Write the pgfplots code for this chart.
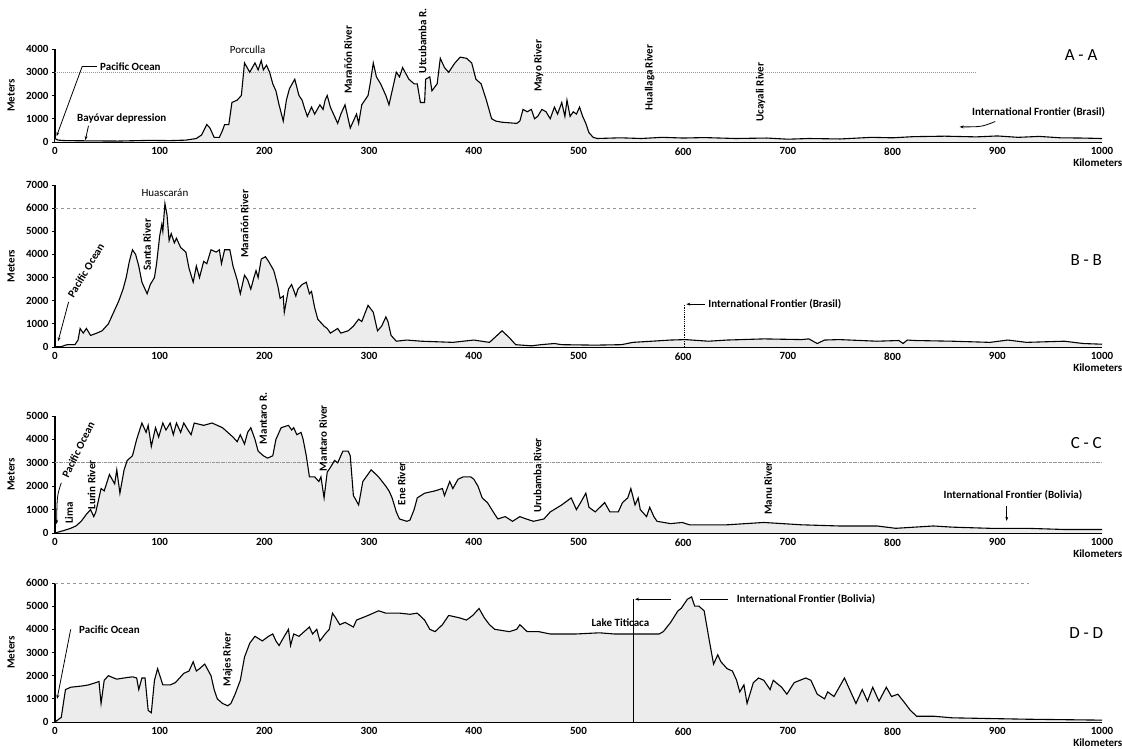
\documentclass[border=0pt]{standalone}
\usepackage{pgfplots}
\pgfplotsset{compat=1.18}
\usepackage{pgfplotstable}
\usepackage{fontspec}
\setmainfont{Carlito}
\usetikzlibrary{arrows.meta}
\definecolor{fillg}{RGB}{236,236,236}
\definecolor{refg}{RGB}{150,150,150}

\pgfplotstableread{
km m
0 150
3 80
10 60
30 50
60 40
90 70
110 60
125 80
135 150
140 300
145 750
148 600
152 200
157 200
160 500
162 750
166 750
169 1700
174 1800
178 2000
181 3400
186 3000
191 3400
194 3100
197 3500
199 3100
202 3300
205 3000
208 2500
211 2200
214 1600
218 900
221 1800
224 2300
229 2700
233 2000
236 1800
238 1500
241 1100
245 1500
248 1200
253 1600
256 1400
258 1800
260 2000
263 1500
267 1100
270 800
273 1200
277 1600
280 1000
282 600
285 900
288 1200
290 800
293 1600
299 2000
301 2500
304 3400
307 2800
311 2500
316 2000
319 1600
322 2200
326 3000
329 2800
332 3200
338 2700
343 2500
346 2500
349 1700
353 1700
354 2700
358 2800
360 2200
365 2500
368 3600
372 3200
376 3000
382 3400
387 3650
393 3600
398 3400
402 2700
407 2500
412 1800
417 1000
421 900
427 850
441 800
444 900
447 1400
451 1300
455 1400
458 1000
461 1100
465 1400
469 1300
473 1000
477 1500
480 1200
484 1700
487 1100
489 1800
492 1100
495 1300
498 1200
501 1500
504 1100
507 800
510 400
514 200
518 150
540 180
560 150
580 200
600 170
620 190
650 150
680 170
700 120
720 150
750 130
780 200
800 180
820 230
850 250
880 220
900 260
920 200
940 240
960 180
980 170
1000 150
}\tA

\pgfplotstableread{
km m
0 0
5 0
10 80
12 100
19 100
22 300
24 800
27 600
30 800
34 500
40 600
45 700
51 1000
56 1500
61 2000
65 2500
68 3000
71 3700
74 4200
77 4000
80 3500
83 2800
86 2500
88 2300
91 2700
95 3000
97 3600
100 4800
102 5300
103 5000
105 6200
107 5700
109 4600
111 4900
114 4500
116 4700
120 4300
125 4100
128 3400
132 2800
135 3500
138 3000
142 3700
145 3600
149 4200
154 4100
157 4200
159 3600
162 4200
167 4200
170 3500
174 2900
177 2300
181 3100
184 2900
187 2500
190 3000
192 3300
194 3000
197 3800
201 3900
204 3700
209 3300
213 2600
215 2100
218 2200
219 1500
223 2500
226 2700
230 2200
232 2500
236 2700
240 2800
243 2300
245 2400
248 1700
251 1200
257 900
260 800
263 600
270 800
273 600
280 700
285 900
290 1200
293 1100
299 1800
304 1500
306 1100
308 700
312 900
316 1300
318 1100
321 500
326 250
336 300
350 250
380 200
400 300
415 200
427 700
434 400
440 100
455 50
464 100
477 150
484 100
516 80
541 100
552 200
570 250
588 300
602 320
624 250
642 300
677 350
713 320
720 350
728 150
735 300
749 320
785 250
806 280
810 150
814 300
821 280
857 250
893 200
910 300
928 200
964 250
982 150
1000 120
}\tB

\pgfplotstableread{
km m
0 0
8 100
15 200
20 300
25 500
30 800
34 1000
37 700
39 900
44 1900
47 1800
52 2500
57 2100
59 2700
62 1700
66 2700
69 3100
74 3300
78 4000
83 4700
87 4300
89 4600
92 3700
96 4500
99 4100
103 4700
106 4400
110 4700
113 4200
116 4700
120 4300
123 4700
127 4400
130 4200
133 4700
142 4600
150 4700
155 4600
160 4500
165 4300
170 4100
174 3900
177 4200
181 3800
184 4300
187 4500
191 4000
194 3500
199 3300
203 3200
208 3300
211 4000
216 4500
223 4600
226 4400
228 4500
231 4200
235 4300
237 4000
240 3300
243 2400
248 2400
252 2200
254 2400
257 1500
260 2600
263 2800
267 3100
270 3000
275 3500
280 3500
282 3300
285 1600
290 1200
294 2200
302 2700
309 2400
316 2000
319 1800
322 1500
326 900
329 600
336 500
339 550
343 1000
346 1500
353 1700
363 1800
370 1900
372 1600
377 2200
380 1900
385 2300
390 2400
397 2400
400 2300
404 2000
408 1500
413 1300
420 800
423 600
430 700
437 500
444 700
450 600
457 500
467 600
473 900
484 1200
493 1500
498 1000
502 1300
507 1700
510 1100
516 900
525 1300
530 900
538 900
542 1300
547 1500
550 1900
554 1200
557 1500
559 1000
565 700
568 1100
572 700
575 500
588 400
599 450
606 350
642 350
677 450
713 350
749 300
785 300
803 200
821 250
839 300
857 250
893 200
928 200
964 150
1000 150
}\tC

\pgfplotstableread{
km m
0 0
3 100
6 200
10 1400
15 1500
25 1550
32 1600
39 1700
42 1750
44 800
47 1800
51 2000
56 1900
59 1850
66 1900
74 1950
78 1900
80 1400
83 1900
86 1900
89 500
92 400
95 1800
98 2300
103 1600
110 1600
115 1700
123 2100
128 2200
132 2600
135 2200
138 2300
143 2500
149 2000
152 1400
155 1000
160 800
165 700
168 800
172 1200
177 1800
181 2800
186 3400
191 3700
198 3500
204 3700
208 3800
211 3500
214 3300
219 3700
223 4000
225 3300
228 3800
233 3700
238 3900
243 4100
246 3800
250 4000
253 3500
258 3800
262 4000
265 4700
268 4500
272 4200
277 4300
285 4100
288 4400
299 4600
304 4700
309 4800
316 4700
329 4700
339 4650
346 4700
353 4400
358 4000
363 3900
370 4200
376 4600
386 4500
393 4400
399 4600
405 4900
410 4500
415 4200
420 4000
434 3900
441 4000
444 4200
451 3900
462 3900
473 3800
498 3800
520 3850
534 3800
577 3800
581 3900
588 4300
595 4800
598 4900
604 5300
608 5400
611 5000
615 5000
620 4800
625 3500
629 2500
633 2900
636 2600
642 2300
647 2200
651 1800
654 1300
658 1600
661 800
667 1700
672 1900
677 1800
683 1400
686 1800
694 1500
699 1200
706 1700
717 1900
722 1800
728 1200
735 1000
738 1300
744 1100
749 1500
754 1900
760 1300
765 800
771 1400
776 900
781 1500
787 900
794 1500
799 1100
805 1200
812 800
817 500
823 250
839 250
857 180
892 150
928 120
964 100
1000 80
}\tD

\pgfplotsset{
  prof/.style={
    width=1047pt, scale only axis,
    xmin=0, xmax=1000, ymin=0,
    axis lines=left, axis line style={-},
    x axis line style={line width=2.2pt},
    y axis line style={line width=1.3pt},
    xtick={0,100,...,1000},
    xtick style={draw=none},
    ytick style={line width=0.8pt, black},
    tick align=outside, major tick length=3pt,
    tick label style={font=\bfseries\fontsize{11}{12}\selectfont},
    /pgf/number format/assume math mode=true,
    /pgf/number format/1000 sep={},
    xticklabel style={yshift=1pt},
    clip=false,
    anchor=south west,
  }
}
\tikzset{ann/.style={font=\bfseries\fontsize{11}{12}\selectfont, inner sep=1pt},
  arr/.style={-{Stealth[length=4pt,width=3pt]}, line width=0.8pt}}

\begin{document}
\begin{tikzpicture}[font=\fontsize{11}{13}\selectfont]
\useasboundingbox (0,0) rectangle (1122pt,749pt);

% ---------------- A - A
\begin{axis}[prof, at={(55pt,607pt)}, height=93pt, ymax=4000, ytick={0,1000,...,4000}]
\addplot[fill=fillg, draw=none] table {\tA} \closedcycle;
\addplot[refg, densely dotted, line width=1pt] coordinates {(0,3000) (880,3000)};
\addplot[black, line width=1.1pt] table {\tA};
\node[ann, rotate=90] at (axis cs:-42,2000) {Meters};
\node[ann] at (axis cs:996,0) [yshift=-21pt] {Kilometers};
\node[font=\fontsize{17}{18}\selectfont] at (axis cs:980,3750) {A - A};
\node[ann, anchor=west] at (axis cs:42,3250) {Pacific Ocean};
\draw[arr] (axis cs:40,3250) -- (axis cs:26,3250) -- (axis cs:1.5,250);
\node[ann, anchor=west] at (axis cs:20,1000) {Bayóvar depression};
\draw[arr] (axis cs:32,700) -- (axis cs:29,80);
\node[font=\fontsize{11}{12}\selectfont] at (axis cs:184,3950) {Porculla};
\node[ann, rotate=90] at (axis cs:280,3530) {Marañón River};
\node[ann, rotate=90] at (axis cs:351,4350) {Utcubamba R.};
\node[ann, rotate=90] at (axis cs:462,3270) {Mayo River};
\node[ann, rotate=90] at (axis cs:568,2780) {Huallaga River};
\node[ann, rotate=90] at (axis cs:674,2150) {Ucayali River};
\node[ann, anchor=east] at (axis cs:1004,1290) {International Frontier (Brasil)};
\draw[arr] (axis cs:898,880) .. controls (axis cs:885,650) .. (axis cs:864,650);
\end{axis}

% ---------------- B - B
\begin{axis}[prof, at={(55pt,402pt)}, height=162pt, ymax=7000, ytick={0,1000,...,7000}]
\addplot[fill=fillg, draw=none] table {\tB} \closedcycle;
\addplot[refg, dashed, line width=0.8pt] coordinates {(0,6000) (880,6000)};
\addplot[black, line width=1.1pt] table {\tB};
\addplot[black, densely dotted, line width=0.8pt] coordinates {(601,0) (601,1850)};
\node[ann, rotate=90] at (axis cs:-42,3500) {Meters};
\node[ann] at (axis cs:996,0) [yshift=-21pt] {Kilometers};
\node[font=\fontsize{17}{18}\selectfont] at (axis cs:985,3750) {B - B};
\node[ann, anchor=west, rotate=59] at (axis cs:14,2150) {Pacific Ocean};
\draw[arr] (axis cs:13,1950) -- (axis cs:3,250);
\node[ann, rotate=90] at (axis cs:88,4420) {Santa River};
\node[font=\fontsize{11}{12}\selectfont] at (axis cs:105,6650) {Huascarán};
\node[ann, rotate=90] at (axis cs:181,5320) {Marañón River};
\draw[arr] (axis cs:621,1850) -- (axis cs:603,1850);
\node[ann, anchor=west] at (axis cs:623,1850) {International Frontier (Brasil)};
\end{axis}

% ---------------- C - C
\begin{axis}[prof, at={(55pt,216pt)}, height=117pt, ymax=5000, ytick={0,1000,...,5000}]
\addplot[fill=fillg, draw=none] table {\tC} \closedcycle;
\addplot[refg, densely dashdotted, line width=0.8pt] coordinates {(0,3000) (1000,3000)};
\addplot[black, line width=1.1pt] table {\tC};
\node[ann, rotate=90] at (axis cs:-42,2500) {Meters};
\node[ann] at (axis cs:996,0) [yshift=-21pt] {Kilometers};
\node[font=\fontsize{17}{18}\selectfont] at (axis cs:985,3850) {C - C};
\node[ann, rotate=90] at (axis cs:13.5,850) {Lima};
\node[ann, anchor=west, rotate=64] at (axis cs:9,2350) {Pacific Ocean};
\draw[arr] (axis cs:6,2150) .. controls (axis cs:2,1600) .. (axis cs:1.5,380);
\node[ann, rotate=90] at (axis cs:35,2050) {Lurin River};
\node[ann, rotate=90] at (axis cs:199,4900) {Mantaro R.};
\node[ann, rotate=90] at (axis cs:256,4050) {Mantaro River};
\node[ann, rotate=90] at (axis cs:331,2100) {Ene River};
\node[ann, rotate=90] at (axis cs:461,2460) {Urubamba River};
\node[ann, rotate=90] at (axis cs:681,1900) {Manu River};
\node[ann] at (axis cs:915,1620) {International Frontier (Bolivia)};
\draw[arr] (axis cs:909,1150) -- (axis cs:909,520);
\end{axis}

% ---------------- D - D
\begin{axis}[prof, at={(55pt,27pt)}, height=139pt, ymax=6000, ytick={0,1000,...,6000}]
\addplot[fill=fillg, draw=none] table {\tD} \closedcycle;
\addplot[refg, dashed, line width=0.8pt] coordinates {(0,6000) (930,6000)};
\addplot[black, line width=1.1pt] table {\tD};
\addplot[black, line width=0.6pt] coordinates {(552,0) (552,5300)};
\node[ann, rotate=90] at (axis cs:-42,3000) {Meters};
\node[ann] at (axis cs:996,0) [yshift=-21pt] {Kilometers};
\node[font=\fontsize{17}{18}\selectfont] at (axis cs:985,3830) {D - D};
\node[ann, anchor=west] at (axis cs:22,4000) {Pacific Ocean};
\draw[arr] (axis cs:15,4000) -- (axis cs:2,1000);
\node[ann, rotate=90] at (axis cs:165,2700) {Majes River};
\node[ann] at (axis cs:540,4300) {Lake Titicaca};
\draw[arr] (axis cs:588,5300) -- (axis cs:554,5300);
\draw[line width=0.8pt] (axis cs:616,5300) -- (axis cs:643,5300);
\node[ann, anchor=west] at (axis cs:650,5300) {International Frontier (Bolivia)};
\end{axis}
\end{tikzpicture}
\end{document}
